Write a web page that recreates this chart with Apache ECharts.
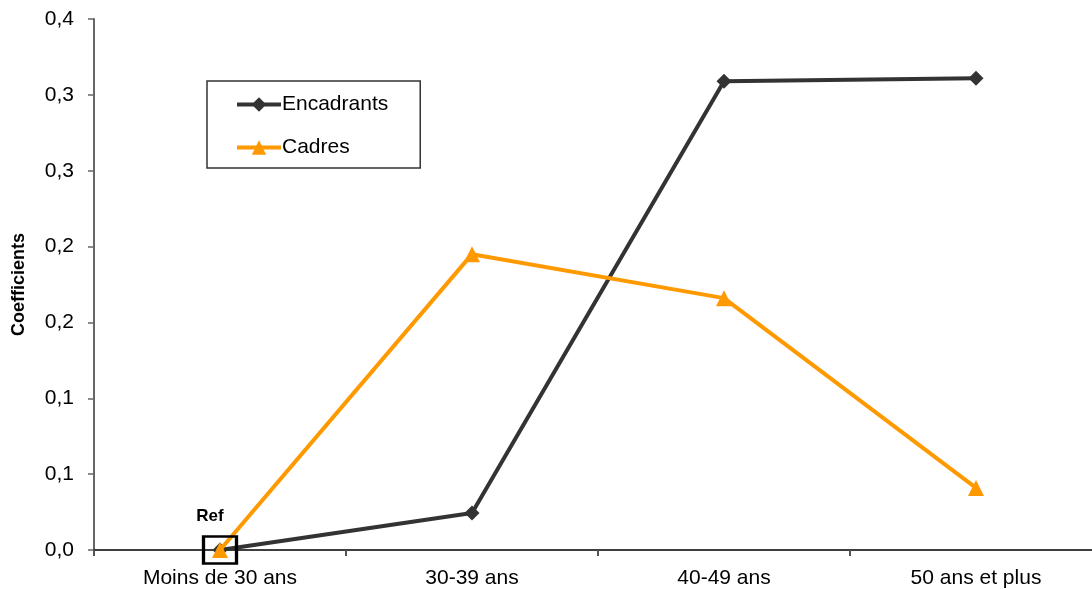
<!DOCTYPE html>
<html>
<head>
<meta charset="utf-8">
<script src="https://cdn.jsdelivr.net/npm/echarts@6/dist/echarts.min.js"></script>
<style>html,body{margin:0;padding:0;background:#fff}#c{width:1092px;height:589px}</style>
</head>
<body>
<div id="c"></div>
<script>
var categories = ['Moins de 30 ans', '30-39 ans', '40-49 ans', '50 ans et plus'];
var encadrants = [0, 0.0244, 0.309, 0.311];
var cadres = [0, 0.195, 0.166, 0.0409];
var yTickLabels = ['0,0', '0,1', '0,1', '0,2', '0,2', '0,3', '0,3', '0,4'];
var refLabel = 'Ref';

var chart = echarts.init(document.getElementById('c'));
var font = 'Liberation Sans, Arial, sans-serif';
chart.setOption({
  animation: false,
  backgroundColor: '#fff',
  grid: { left: 94, right: -10, top: 19, bottom: 39, outerBoundsMode: 'none', containLabel: false },
  legend: {
    orient: 'vertical',
    left: 207, top: 81,
    padding: [13, 32, 10, 28],
    itemGap: 22,
    itemWidth: 44, itemHeight: 18,
    borderColor: '#333', borderWidth: 1.5,
    textStyle: { fontFamily: font, fontSize: 21, color: '#000', padding: [0, 0, 0, -4] },
    data: [
      { name: 'Encadrants', lineStyle: { width: 4 } },
      { name: 'Cadres', lineStyle: { width: 4 } }
    ]
  },
  xAxis: {
    type: 'category',
    data: categories,
    boundaryGap: true,
    axisLine: { lineStyle: { color: '#000', width: 1.5 } },
    axisTick: { show: true, length: 6, lineStyle: { color: '#555', width: 2 } },
    axisLabel: { fontFamily: font, fontSize: 21, color: '#000', margin: 18 },
    splitLine: { show: false }
  },
  yAxis: {
    type: 'value',
    min: 0, max: 0.35, interval: 0.05,
    name: 'Coefficients',
    nameLocation: 'middle',
    nameGap: 66,
    nameRotate: 90,
    nameTextStyle: { fontFamily: font, fontSize: 18, fontWeight: 'bold', color: '#000' },
    axisLine: { show: true, lineStyle: { color: '#666', width: 2 } },
    axisTick: { show: true, length: 6, lineStyle: { color: '#666', width: 1.5 } },
    axisLabel: {
      fontFamily: font, fontSize: 21, color: '#000', margin: 20,
      formatter: function (v, i) { return yTickLabels[i]; }
    },
    splitLine: { show: false }
  },
  series: [
    {
      name: 'Encadrants', type: 'line', data: encadrants,
      symbol: 'diamond', symbolSize: 15,
      lineStyle: { color: '#333333', width: 4 },
      itemStyle: { color: '#333333' },
      z: 2
    },
    {
      name: 'Cadres', type: 'line', data: cadres,
      symbol: 'triangle', symbolSize: 16,
      lineStyle: { color: '#FF9900', width: 4 },
      itemStyle: { color: '#FF9900' },
      z: 3,
      markPoint: {
        symbol: 'rect', symbolSize: [33, 27],
        itemStyle: { color: 'rgba(0,0,0,0)', borderColor: '#000', borderWidth: 3 },
        label: {
          show: true, position: 'top', distance: 9, offset: [-10, -1],
          formatter: refLabel,
          fontFamily: font, fontSize: 17, fontWeight: 'bold', color: '#000'
        },
        data: [{ coord: [categories[0], cadres[0]] }]
      }
    }
  ]
});
</script>
</body>
</html>
